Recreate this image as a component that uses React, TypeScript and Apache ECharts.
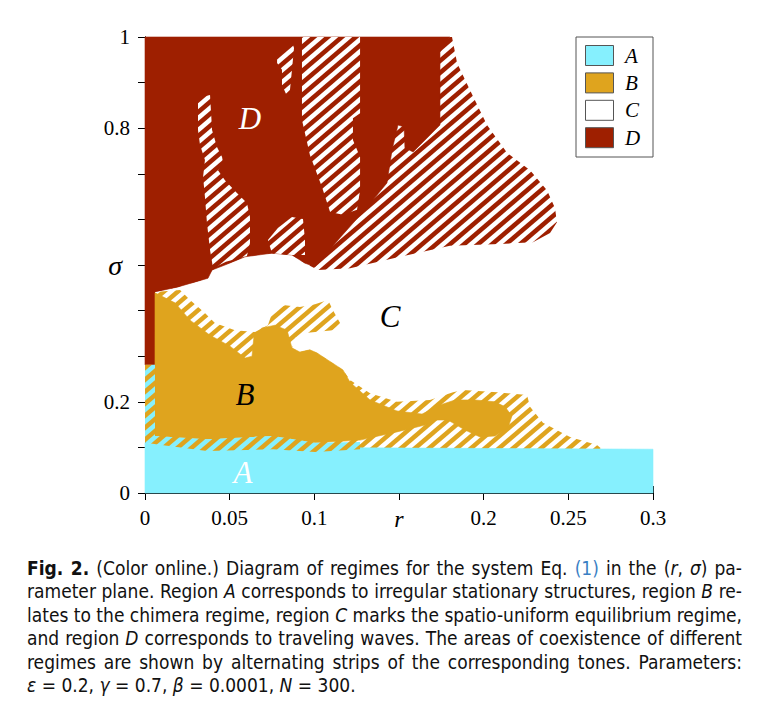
import React, { useEffect, useRef } from 'react';
import * as echarts from 'echarts';

// ---- axis ticks / labels ----
const xTickLabels = ['0', '0.05', '0.1', 'r', '0.2', '0.25', '0.3'];
const yTickLabels = ['0', '', '0.2', '', '', 'σ', '', '', '0.8', '', '1'];

// ---- regimes ----
const regionNames = ['A', 'B', 'C', 'D'];
const regionColors = ['#86F0FE', '#DFA41E', '#FFFFFF', '#9E1F00'];

// region D together with the D/C coexistence area  [r, sigma]
const dEnvelope: number[][] = [
  [0, 1.0], [0.1813, 1.0], [0.1843, 0.943], [0.1919, 0.884], [0.202, 0.807], [0.2138, 0.746],
  [0.2274, 0.708], [0.2374, 0.664], [0.2421, 0.625], [0.2433, 0.594], [0.2392, 0.57], [0.2291, 0.55],
  [0.2096, 0.546], [0.1801, 0.542], [0.1506, 0.518], [0.1211, 0.493], [0.1022, 0.489], [0.0945, 0.504],
  [0.0868, 0.522], [0.075, 0.526], [0.0591, 0.518], [0.0472, 0.5], [0.0396, 0.489], [0.0372, 0.471],
  [0.0195, 0.452], [0.0059, 0.441], [0.0059, 0.281], [0, 0.281],
];
// pure D
const dSolid: number[][] = [
  [0, 1.0], [0.1801, 1.0], [0.1742, 0.967], [0.1742, 0.807], [0.1583, 0.748], [0.1535, 0.757],
  [0.153, 0.803], [0.1494, 0.807], [0.1459, 0.752], [0.1429, 0.68], [0.1287, 0.616], [0.114, 0.555],
  [0.1004, 0.496], [0.0945, 0.504], [0.0868, 0.522], [0.075, 0.526], [0.0591, 0.518], [0.0472, 0.5],
  [0.0396, 0.489], [0.0372, 0.471], [0.0195, 0.452], [0.0059, 0.441], [0.0059, 0.281], [0, 0.281],
];
// D/C islands inside D
const dcIsland1: number[][] = [
  [0.0325, 0.868], [0.0384, 0.873], [0.0396, 0.796], [0.0425, 0.759], [0.0455, 0.737], [0.0461, 0.724],
  [0.0431, 0.708], [0.0472, 0.686], [0.0543, 0.658], [0.0602, 0.636], [0.062, 0.605], [0.062, 0.548],
  [0.0602, 0.52], [0.0478, 0.507], [0.0402, 0.493], [0.0384, 0.533], [0.0366, 0.592], [0.0354, 0.649],
  [0.0343, 0.693], [0.0354, 0.73], [0.0325, 0.763], [0.0313, 0.796], [0.0313, 0.855],
];
const dcIsland2: number[][] = [
  [0.0868, 0.989], [0.088, 0.976], [0.0868, 0.928], [0.0856, 0.884], [0.0833, 0.875], [0.0809, 0.895],
  [0.0809, 0.928], [0.078, 0.943], [0.078, 0.961], [0.0827, 0.976],
];
const dcIsland3: number[][] = [
  [0.0927, 1.0], [0.127, 1.0], [0.127, 0.833], [0.1228, 0.822], [0.1228, 0.774], [0.127, 0.737],
  [0.127, 0.664], [0.1252, 0.621], [0.1169, 0.61], [0.1093, 0.616], [0.1045, 0.671], [0.0974, 0.741],
  [0.0927, 0.818],
];
const dcIsland4: number[][] = [
  [0.0726, 0.555], [0.0785, 0.581], [0.0868, 0.605], [0.0933, 0.601], [0.0945, 0.555], [0.0945, 0.522],
  [0.0868, 0.522], [0.075, 0.526],
];
// region B together with the B/C coexistence area
const bEnvelope: number[][] = [
  [0.0059, 0.441], [0.0207, 0.445], [0.0266, 0.423], [0.0354, 0.395], [0.0413, 0.373], [0.0531, 0.357],
  [0.065, 0.353], [0.0726, 0.368], [0.0756, 0.401], [0.0827, 0.412], [0.0915, 0.408], [0.1004, 0.414],
  [0.1081, 0.423], [0.111, 0.401], [0.1152, 0.373], [0.111, 0.357], [0.0945, 0.351], [0.0886, 0.34],
  [0.0868, 0.318], [0.0915, 0.309], [0.0974, 0.314], [0.1016, 0.307], [0.1169, 0.27], [0.1211, 0.248],
  [0.1329, 0.219], [0.1488, 0.2], [0.1683, 0.204], [0.1819, 0.221], [0.1878, 0.226], [0.2079, 0.221],
  [0.2256, 0.215], [0.2274, 0.189], [0.235, 0.154], [0.251, 0.123], [0.2669, 0.105], [0.2699, 0.096],
  [0.127, 0.096], [0.0059, 0.096],
];
// pure B
const bSolid: number[][] = [
  [0.0059, 0.439], [0.0177, 0.417], [0.0266, 0.379], [0.0384, 0.346], [0.0502, 0.322], [0.0591, 0.296],
  [0.0632, 0.3], [0.0644, 0.346], [0.0691, 0.362], [0.0768, 0.368], [0.0839, 0.357], [0.0868, 0.318],
  [0.0915, 0.309], [0.0974, 0.314], [0.1016, 0.307], [0.1169, 0.27], [0.1211, 0.243], [0.1329, 0.204],
  [0.1488, 0.18], [0.1636, 0.173], [0.1742, 0.193], [0.1831, 0.204], [0.1949, 0.204], [0.2067, 0.2],
  [0.2126, 0.189], [0.2167, 0.169], [0.2144, 0.143], [0.2067, 0.125], [0.1978, 0.123], [0.189, 0.138],
  [0.1789, 0.16], [0.1713, 0.16], [0.1654, 0.149], [0.1488, 0.134], [0.127, 0.116], [0.1004, 0.11],
  [0.0756, 0.125], [0.0638, 0.123], [0.0366, 0.118], [0.0059, 0.125],
];
// region A
const aSolid: number[][] = [
  [0, 0], [0.3, 0], [0.3, 0.096], [0.127, 0.099], [0.1004, 0.092], [0.0756, 0.099], [0.0366, 0.094],
  [0, 0.11],
];
// A/B coexistence
const abHatch: number[][] = [
  [0, 0.281], [0.0059, 0.281], [0.0059, 0.125], [0.0366, 0.118], [0.0638, 0.123], [0.0756, 0.125],
  [0.1004, 0.11], [0.127, 0.112], [0.127, 0.096], [0.1004, 0.09], [0.0756, 0.096], [0.0366, 0.092],
  [0, 0.11],
];

// region letters
const labelNames = ['D', 'C', 'B', 'A'];
const labelR = [0.062, 0.1447, 0.059, 0.0579];
const labelS = [0.822, 0.388, 0.215, 0.046];
const labelColors = ['#FFFFFF', '#000000', '#000000', '#FFFFFF'];

const SERIF = '"Liberation Serif", "DejaVu Serif", serif';

function makeHatch(bg: string, fg: string) {
  const w = 14;
  const h = 12;
  const c = document.createElement('canvas');
  c.width = w;
  c.height = h;
  const ctx = c.getContext('2d')!;
  ctx.fillStyle = bg;
  ctx.fillRect(0, 0, w, h);
  ctx.strokeStyle = fg;
  ctx.lineWidth = 4.5;
  for (const o of [-w, 0, w]) {
    ctx.beginPath();
    ctx.moveTo(o - w, 2 * h);
    ctx.lineTo(o + 2 * w, -h);
    ctx.stroke();
  }
  return { image: c, repeat: 'repeat', imageWidth: w, imageHeight: h } as any;
}

function polySeries(name: string, pts: number[][], fill: any, z: number, stroke?: string) {
  return {
    type: 'custom',
    name,
    coordinateSystem: 'cartesian2d',
    silent: true,
    clip: false,
    z,
    data: pts,
    renderItem: (params: any, api: any) => {
      if (params.dataIndex !== 0) return null;
      const points = pts.map((p) => api.coord(p));
      return {
        type: 'polygon',
        shape: { points },
        style: stroke ? { fill, stroke, lineWidth: 0.6 } : { fill, stroke: 'none' },
      };
    },
  };
}

export default function App() {
  const ref = useRef<HTMLDivElement>(null);

  useEffect(() => {
    if (!ref.current) return;
    const chart = echarts.init(ref.current, undefined, { renderer: 'svg' });
    const [cA, cB, cC, cD] = regionColors;
    const hatchDC = makeHatch(cD, cC);
    const hatchBC = makeHatch(cC, cB);
    const hatchAB = makeHatch(cA, cB);

    const axisLine = { show: true, lineStyle: { color: '#000', width: 1 } };
    const tick = { show: true, inside: true, length: 7, lineStyle: { color: '#000', width: 1 } };

    const option: any = {
      animation: false,
      backgroundColor: '#fff',
      grid: { left: 145, top: 37, width: 508, height: 456 },
      xAxis: [
        {
          type: 'value', min: 0, max: 0.3, interval: 0.05, position: 'bottom',
          axisLine, axisTick: tick, splitLine: { show: false },
          axisLabel: {
            margin: 14, color: '#000', fontFamily: SERIF, fontSize: 21,
            formatter: (v: number) => {
              const t = xTickLabels[Math.round(v / 0.05)] ?? '';
              return t === 'r' ? '{i|r}' : t;
            },
            rich: { i: { fontStyle: 'italic', fontFamily: SERIF, fontSize: 24, color: '#000' } },
          },
        },
        {
          type: 'value', min: 0, max: 0.3, interval: 0.05, position: 'top',
          axisLine, axisTick: tick, splitLine: { show: false }, axisLabel: { show: false },
        },
      ],
      yAxis: [
        {
          type: 'value', min: 0, max: 1, interval: 0.1, position: 'left',
          axisLine, axisTick: tick, splitLine: { show: false },
          axisLabel: {
            margin: 15, color: '#000', fontFamily: SERIF, fontSize: 21,
            formatter: (v: number) => {
              const t = yTickLabels[Math.round(v * 10)] ?? '';
              return t === 'σ' ? '{s|σ}' : t;
            },
            rich: { s: { fontStyle: 'italic', fontFamily: SERIF, fontSize: 28, color: '#000', padding: [0, 8, 0, 0] } },
          },
        },
        {
          type: 'value', min: 0, max: 1, interval: 0.1, position: 'right',
          axisLine, axisTick: tick, splitLine: { show: false }, axisLabel: { show: false },
        },
      ],
      series: [
        polySeries('D/C', dEnvelope, hatchDC, 2),
        polySeries('D', dSolid, cD, 3, cD),
        polySeries('D/C 1', dcIsland1, hatchDC, 4),
        polySeries('D/C 2', dcIsland2, hatchDC, 4),
        polySeries('D/C 3', dcIsland3, hatchDC, 4),
        polySeries('D/C 4', dcIsland4, hatchDC, 4),
        polySeries('B/C', bEnvelope, hatchBC, 5),
        polySeries('B', bSolid, cB, 6, cB),
        polySeries('A', aSolid, cA, 7, cA),
        polySeries('A/B', abHatch, hatchAB, 8),
        {
          type: 'custom',
          name: 'labels',
          coordinateSystem: 'cartesian2d',
          silent: true,
          clip: false,
          z: 9,
          data: labelR.map((r, i) => [r, labelS[i]]),
          renderItem: (params: any, api: any) => {
            const i = params.dataIndex;
            const p = api.coord([api.value(0), api.value(1)]);
            return {
              type: 'text',
              x: p[0],
              y: p[1],
              style: {
                text: labelNames[i],
                fontFamily: SERIF,
                fontStyle: 'italic',
                fontSize: 31,
                fill: labelColors[i],
                align: 'center',
                verticalAlign: 'middle',
              },
            };
          },
        },
      ],
      graphic: [
        {
          type: 'rect', z: 100,
          shape: { x: 576, y: 37, width: 77, height: 120 },
          style: { fill: '#fff', stroke: '#555', lineWidth: 1 },
        },
        ...regionNames.map((n, i) => ({
          type: 'rect', z: 101,
          shape: { x: 585.5, y: 45.5 + i * 27.4, width: 28, height: 20 },
          style: { fill: regionColors[i], stroke: '#555', lineWidth: 1 },
        })),
        ...regionNames.map((n, i) => ({
          type: 'text', z: 101,
          x: 625, y: 55.5 + i * 27.4,
          style: {
            text: n, fontFamily: SERIF, fontStyle: 'italic', fontSize: 21, fill: '#000',
            verticalAlign: 'middle', align: 'left',
          },
        })),
      ],
    };
    chart.setOption(option);
    return () => chart.dispose();
  }, []);

  const lineStyle: React.CSSProperties = {
    textAlign: 'justify',
    textAlignLast: 'justify' as any,
    whiteSpace: 'nowrap',
    height: 23.4,
  };
  const blue: React.CSSProperties = { color: '#3a7fc4' };

  return (
    <div style={{ position: 'absolute', left: 0, top: 0, width: 767, height: 711, background: '#fff' }}>
      <div ref={ref} style={{ position: 'absolute', left: 0, top: 0, width: 767, height: 540 }} />
      <div
        style={{
          position: 'absolute', left: 27, top: 557, width: 715,
          fontFamily: '"Liberation Sans Narrow", "DejaVu Sans Condensed", "Roboto", sans-serif',
          fontSize: 19, lineHeight: '23.4px', color: '#111',
        }}
      >
        <div style={lineStyle}>
          <b>Fig. 2.</b> (Color online.) Diagram of regimes for the system Eq. <span style={blue}>(1)</span> in the (<i>r</i>, <i>σ</i>) pa-
        </div>
        <div style={lineStyle}>
          rameter plane. Region <i>A</i> corresponds to irregular stationary structures, region <i>B</i> re-
        </div>
        <div style={lineStyle}>
          lates to the chimera regime, region <i>C</i> marks the spatio-uniform equilibrium regime,
        </div>
        <div style={lineStyle}>
          and region <i>D</i> corresponds to traveling waves. The areas of coexistence of different
        </div>
        <div style={lineStyle}>
          regimes are shown by alternating strips of the corresponding tones. Parameters:
        </div>
        <div style={{ whiteSpace: 'nowrap', height: 23.4 }}>
          <i>ε</i> = 0.2, <i>γ</i> = 0.7, <i>β</i> = 0.0001, <i>N</i> = 300.
        </div>
      </div>
    </div>
  );
}
